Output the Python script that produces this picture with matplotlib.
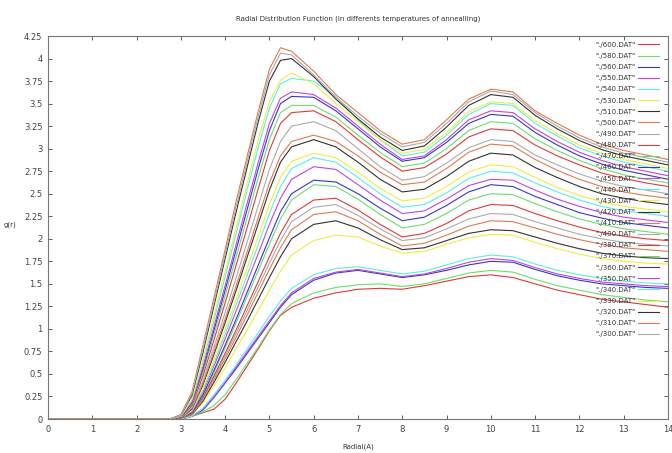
import matplotlib
matplotlib.use("Agg")
import matplotlib.pyplot as plt
from matplotlib.ticker import FuncFormatter, MultipleLocator

# r grid (A)
r = [0, 2.75, 3.0, 3.25, 3.5, 3.75, 4.0, 4.25, 4.5, 4.75, 5.0, 5.25, 5.5, 6.0, 6.5,
     7.0, 7.5, 8.0, 8.5, 9.0, 9.5, 10.0, 10.5, 11.0, 11.5, 12.0, 12.5, 13.0, 13.5, 14.0]

# g(r) for each annealing temperature
g600 = [0, 0, 0.0, 0.03, 0.07, 0.11, 0.22, 0.4, 0.59, 0.78, 0.98, 1.15, 1.24, 1.34, 1.4,
        1.44, 1.45, 1.44, 1.48, 1.53, 1.58, 1.6, 1.57, 1.5, 1.43, 1.38, 1.33, 1.3, 1.27, 1.24]
g580 = [0, 0, 0.0, 0.03, 0.08, 0.15, 0.27, 0.44, 0.62, 0.8, 0.99, 1.16, 1.28, 1.4, 1.46,
        1.49, 1.5, 1.47, 1.5, 1.56, 1.62, 1.65, 1.63, 1.55, 1.48, 1.43, 1.38, 1.35, 1.32, 1.3]
g560 = [0, 0, 0.0, 0.03, 0.1, 0.24, 0.4, 0.56, 0.73, 0.9, 1.07, 1.24, 1.38, 1.54, 1.62,
        1.65, 1.61, 1.57, 1.6, 1.65, 1.71, 1.75, 1.74, 1.66, 1.59, 1.54, 1.5, 1.48, 1.46, 1.45]
g550 = [0, 0, 0.0, 0.03, 0.11, 0.25, 0.41, 0.58, 0.75, 0.92, 1.09, 1.26, 1.4, 1.56, 1.63,
        1.66, 1.62, 1.58, 1.61, 1.67, 1.74, 1.78, 1.76, 1.68, 1.61, 1.56, 1.52, 1.5, 1.48, 1.47]
g540 = [0, 0, 0.0, 0.03, 0.12, 0.27, 0.43, 0.6, 0.78, 0.96, 1.14, 1.31, 1.45, 1.6, 1.67,
        1.69, 1.65, 1.61, 1.64, 1.71, 1.78, 1.82, 1.8, 1.72, 1.65, 1.6, 1.56, 1.53, 1.51, 1.5]
g530 = [0, 0, 0.01, 0.04, 0.18, 0.37, 0.57, 0.78, 0.99, 1.21, 1.43, 1.64, 1.82, 1.98, 2.04,
        2.02, 1.92, 1.84, 1.86, 1.94, 2.01, 2.05, 2.04, 1.96, 1.89, 1.83, 1.78, 1.75, 1.73, 1.72]
g510 = [0, 0, 0.01, 0.05, 0.2, 0.41, 0.63, 0.86, 1.09, 1.33, 1.57, 1.8, 2.0, 2.16, 2.2,
        2.12, 1.99, 1.88, 1.9, 1.98, 2.06, 2.1, 2.09, 2.02, 1.95, 1.89, 1.84, 1.81, 1.79, 1.78]
g500 = [0, 0, 0.01, 0.05, 0.22, 0.44, 0.67, 0.91, 1.16, 1.41, 1.66, 1.9, 2.1, 2.27, 2.3,
        2.2, 2.05, 1.92, 1.95, 2.04, 2.14, 2.2, 2.19, 2.12, 2.05, 1.99, 1.94, 1.9, 1.88, 1.86]
g490 = [0, 0, 0.01, 0.06, 0.23, 0.46, 0.7, 0.95, 1.21, 1.47, 1.73, 1.98, 2.19, 2.35, 2.38,
        2.26, 2.11, 1.98, 2.01, 2.11, 2.22, 2.28, 2.27, 2.19, 2.12, 2.05, 2.0, 1.96, 1.94, 1.92]
g480 = [0, 0, 0.01, 0.06, 0.24, 0.48, 0.73, 0.99, 1.26, 1.53, 1.8, 2.06, 2.27, 2.43, 2.45,
        2.32, 2.16, 2.02, 2.06, 2.17, 2.31, 2.38, 2.37, 2.28, 2.2, 2.13, 2.07, 2.03, 2.0, 1.98]
g470 = [0, 0, 0.01, 0.07, 0.26, 0.52, 0.79, 1.07, 1.36, 1.65, 1.94, 2.22, 2.43, 2.6, 2.58,
        2.44, 2.27, 2.12, 2.16, 2.28, 2.43, 2.5, 2.49, 2.39, 2.3, 2.22, 2.16, 2.11, 2.08, 2.05]
g460 = [0, 0, 0.01, 0.07, 0.27, 0.54, 0.82, 1.11, 1.41, 1.71, 2.01, 2.3, 2.5, 2.65, 2.63,
        2.5, 2.34, 2.2, 2.24, 2.37, 2.52, 2.6, 2.58, 2.47, 2.38, 2.29, 2.23, 2.18, 2.15, 2.12]
g450 = [0, 0, 0.01, 0.08, 0.3, 0.59, 0.89, 1.2, 1.52, 1.84, 2.16, 2.45, 2.66, 2.8, 2.77,
        2.6, 2.43, 2.28, 2.31, 2.44, 2.59, 2.66, 2.65, 2.54, 2.44, 2.36, 2.29, 2.24, 2.21, 2.18]
g440 = [0, 0, 0.01, 0.09, 0.32, 0.62, 0.94, 1.27, 1.6, 1.94, 2.28, 2.58, 2.78, 2.9, 2.85,
        2.68, 2.5, 2.35, 2.38, 2.51, 2.67, 2.75, 2.73, 2.62, 2.52, 2.43, 2.36, 2.31, 2.28, 2.25]
g430 = [0, 0, 0.01, 0.1, 0.34, 0.66, 0.99, 1.33, 1.68, 2.03, 2.38, 2.68, 2.86, 2.95, 2.9,
        2.74, 2.56, 2.42, 2.45, 2.58, 2.74, 2.82, 2.8, 2.68, 2.57, 2.48, 2.41, 2.36, 2.33, 2.3]
g420 = [0, 0, 0.01, 0.11, 0.38, 0.72, 1.07, 1.43, 1.8, 2.17, 2.54, 2.85, 3.02, 3.1, 3.02,
        2.85, 2.66, 2.52, 2.55, 2.69, 2.86, 2.95, 2.93, 2.79, 2.68, 2.58, 2.5, 2.45, 2.41, 2.38]
g410 = [0, 0, 0.01, 0.12, 0.4, 0.75, 1.11, 1.48, 1.86, 2.24, 2.62, 2.92, 3.08, 3.15, 3.08,
        2.92, 2.74, 2.6, 2.63, 2.78, 2.96, 3.05, 3.03, 2.88, 2.76, 2.66, 2.58, 2.52, 2.48, 2.45]
g400 = [0, 0, 0.02, 0.13, 0.43, 0.8, 1.18, 1.57, 1.97, 2.37, 2.77, 3.08, 3.25, 3.3, 3.2,
        3.0, 2.8, 2.65, 2.69, 2.84, 3.01, 3.1, 3.08, 2.93, 2.82, 2.72, 2.64, 2.58, 2.54, 2.5]
g380 = [0, 0, 0.02, 0.15, 0.48, 0.88, 1.29, 1.71, 2.13, 2.56, 2.98, 3.28, 3.4, 3.42, 3.3,
        3.1, 2.91, 2.75, 2.79, 2.94, 3.13, 3.22, 3.2, 3.04, 2.92, 2.82, 2.73, 2.67, 2.62, 2.58]
g370 = [0, 0, 0.02, 0.17, 0.52, 0.94, 1.37, 1.8, 2.24, 2.68, 3.1, 3.4, 3.48, 3.48, 3.35,
        3.15, 2.96, 2.8, 2.84, 3.0, 3.2, 3.3, 3.28, 3.11, 2.98, 2.87, 2.78, 2.71, 2.66, 2.62]
g360 = [0, 0, 0.02, 0.18, 0.55, 0.99, 1.43, 1.88, 2.33, 2.78, 3.2, 3.5, 3.58, 3.57, 3.42,
        3.22, 3.02, 2.86, 2.9, 3.07, 3.28, 3.38, 3.36, 3.18, 3.04, 2.92, 2.83, 2.76, 2.71, 2.66]
g350 = [0, 0, 0.03, 0.19, 0.58, 1.03, 1.48, 1.94, 2.4, 2.85, 3.28, 3.56, 3.63, 3.6, 3.45,
        3.25, 3.05, 2.88, 2.92, 3.1, 3.32, 3.42, 3.4, 3.22, 3.08, 2.96, 2.87, 2.8, 2.75, 2.7]
g340 = [0, 0, 0.03, 0.21, 0.63, 1.1, 1.58, 2.06, 2.55, 3.02, 3.45, 3.72, 3.78, 3.75, 3.58,
        3.32, 3.1, 2.92, 2.96, 3.15, 3.38, 3.5, 3.48, 3.28, 3.14, 3.01, 2.92, 2.85, 2.8, 2.75]
g330 = [0, 0, 0.03, 0.22, 0.66, 1.15, 1.64, 2.13, 2.62, 3.1, 3.52, 3.76, 3.84, 3.72, 3.5,
        3.3, 3.1, 2.95, 2.99, 3.18, 3.41, 3.52, 3.5, 3.31, 3.17, 3.04, 2.95, 2.88, 2.83, 2.78]
g320 = [0, 0, 0.04, 0.26, 0.74, 1.26, 1.78, 2.3, 2.8, 3.3, 3.75, 3.98, 4.0, 3.8, 3.55,
        3.33, 3.13, 2.98, 3.03, 3.24, 3.48, 3.6, 3.57, 3.37, 3.22, 3.09, 2.99, 2.92, 2.87, 2.82]
g310 = [0, 0, 0.05, 0.3, 0.82, 1.35, 1.88, 2.42, 2.92, 3.42, 3.88, 4.12, 4.08, 3.86, 3.6,
        3.4, 3.2, 3.05, 3.1, 3.32, 3.55, 3.66, 3.63, 3.42, 3.28, 3.15, 3.05, 2.98, 2.93, 2.88]
g300 = [0, 0, 0.04, 0.28, 0.78, 1.3, 1.83, 2.36, 2.86, 3.36, 3.82, 4.06, 4.04, 3.82, 3.57,
        3.36, 3.17, 3.02, 3.07, 3.28, 3.52, 3.64, 3.6, 3.4, 3.25, 3.12, 3.02, 2.95, 2.9, 2.85]

temps = [600, 580, 560, 550, 540, 530, 510, 500, 490, 480, 470, 460, 450, 440,
         430, 420, 410, 400, 380, 370, 360, 350, 340, 330, 320, 310, 300]
series = [g600, g580, g560, g550, g540, g530, g510, g500, g490, g480, g470, g460, g450, g440,
          g430, g420, g410, g400, g380, g370, g360, g350, g340, g330, g320, g310, g300]

# gnuplot-like line colour cycle
cycle = ["#e03a3a", "#6fdc6f", "#3636cc", "#c444e0", "#5cecec",
         "#eeee44", "#333333", "#e07a52", "#ababab"]

fig = plt.figure(figsize=(6.72, 4.53), dpi=100)
ax = fig.add_axes([0.0714, 0.075, 0.9226, 0.8455])

for i, (t, g) in enumerate(zip(temps, series)):
    ax.plot(r, g, color=cycle[i % len(cycle)], lw=0.8, label='"./%d.DAT"' % t)

ax.set_xlim(0, 14)
ax.set_ylim(0, 4.25)
ax.xaxis.set_major_locator(MultipleLocator(1))
ax.yaxis.set_major_locator(MultipleLocator(0.25))
ax.yaxis.set_major_formatter(FuncFormatter(lambda v, p: "%g" % v))
ax.tick_params(direction="in", length=3, width=0.6, labelsize=6, colors="#444444",
               top=True, right=True, pad=4)
for s in ax.spines.values():
    s.set_color("#777777")
    s.set_linewidth(0.8)

ax.set_title("Radial Distribution Function (in differents temperatures of annealling)",
             fontsize=5, color="#333333", pad=11)
ax.set_xlabel("Radial(A)", fontsize=5, color="#333333", labelpad=7)
ax.set_ylabel("g(r)", fontsize=5, color="#333333", rotation=0, labelpad=10)

leg = ax.legend(loc="upper right", bbox_to_anchor=(0.99, 0.992), frameon=False,
                fontsize=5, markerfirst=False, labelspacing=0.74, handlelength=3.0,
                handletextpad=0.4, borderaxespad=0)
for txt in leg.get_texts():
    txt.set_color("#333333")

fig.savefig("out.png", dpi=100)
